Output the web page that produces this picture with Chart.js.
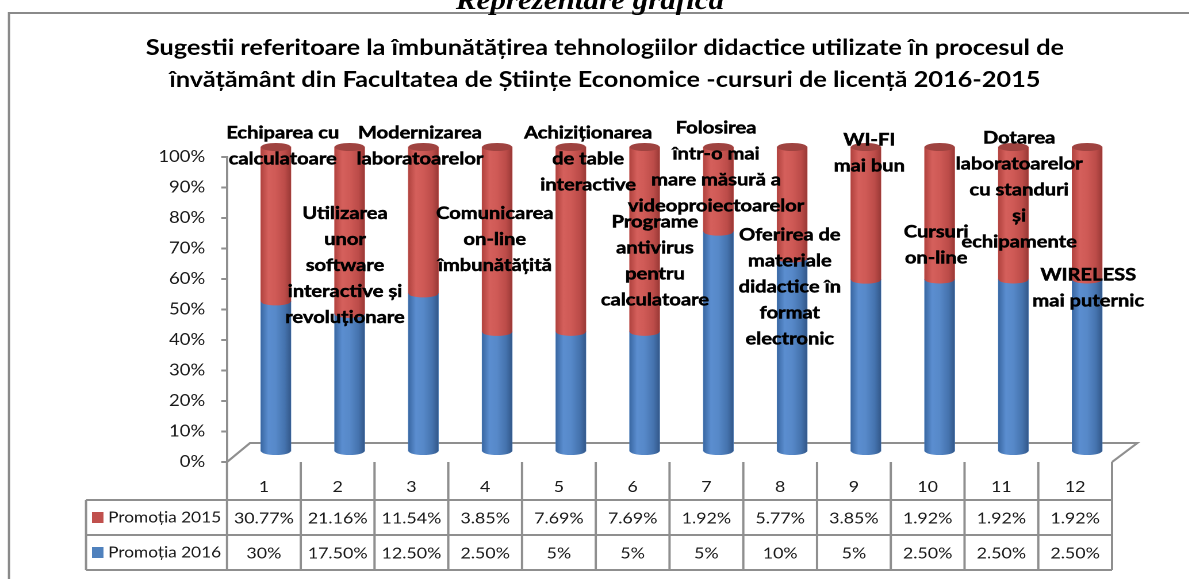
<!DOCTYPE html>
<html lang="ro">
<head>
<meta charset="utf-8">
<title>Sugestii tehnologii didactice</title>
<script src="https://cdn.jsdelivr.net/npm/chart.js@4.4.1/dist/chart.umd.min.js"></script>
<style>
  html, body { margin: 0; padding: 0; background: #fff; overflow: hidden; }
  #wrap { width: 1189px; height: 579px; overflow: hidden; }
  /* the original picture is stretched sideways, so the canvas is too */
  #chart { transform-origin: 0 0; transform: scaleX(1.15); }
</style>
</head>
<body>
<div id="wrap"><canvas id="chart" width="1034" height="579"></canvas></div>
<script>
/* =============== Data =============== */
const categories = ["1", "2", "3", "4", "5", "6", "7", "8", "9", "10", "11", "12"];
const seriesNames = ["Promoția 2015", "Promoția 2016"];
const promo2015 = [30.77, 21.16, 11.54, 3.85, 7.69, 7.69, 1.92, 5.77, 3.85, 1.92, 1.92, 1.92];
const promo2016 = [30, 17.5, 12.5, 2.5, 5, 5, 5, 10, 5, 2.5, 2.5, 2.5];
const suggestions = [
  ["Echiparea cu", "calculatoare"],
  ["Utilizarea", "unor", "software", "interactive și", "revoluționare"],
  ["Modernizarea", "laboratoarelor"],
  ["Comunicarea", "on-line", "îmbunătățită"],
  ["Achiziționarea", "de table", "interactive"],
  ["Programe", "antivirus", "pentru", "calculatoare"],
  ["Folosirea", "într-o mai", "mare măsură a", "videoproiectoarelor"],
  ["Oferirea de", "materiale", "didactice în", "format", "electronic"],
  ["WI-FI", "mai bun"],
  ["Cursuri", "on-line"],
  ["Dotarea", "laboratoarelor", "cu standuri", "și", "echipamente"],
  ["WIRELESS", "mai puternic"]
];
const titleLines = [
  "Sugestii referitoare la îmbunătățirea tehnologiilor didactice utilizate în procesul de",
  "învățământ din Facultatea de Științe Economice -cursuri de licență 2016-2015"
];
const headerText = "Reprezentare grafică";

/* =============== Layout (not data) =============== */
// first line of each category label, in axis % units, and sideways nudge
const labelTop = [107.9, 81.6, 107.9, 81.6, 107.9, 78.7, 109.5, 74.4, 105.6, 75.4, 106.2, 61.3];
const labelShift = [6, -4, -3, -2, 15, 9, -2, -2, 3, -3, 5, 1];
const LINE = 26;
const DEPTH = { dx: 10.4, dy: -10 };   // bars sit inside the 3d floor
const FLOOR = { dx: 20, dy: 19 };
const GRID = "#8f8f8f";

const COLORS = {
  red: "#c0504d",
  blue: "#4f81bd",
  redTop: "#9f4340"
};
const SHADES = [
  [[0, "#3a68a3"], [0.25, "#5b8ed0"], [0.5, "#5789c9"], [0.8, "#4573ae"], [1, "#33588a"]],
  [[0, "#b1433f"], [0.25, "#d5605c"], [0.5, "#cf5a56"], [0.8, "#bc4c49"], [1, "#9a3936"]]
];

/* =============== Helpers =============== */
const pct = (v) => (Number.isInteger(v) ? String(v) : v.toFixed(2)) + "%";
const share2016 = promo2016.map((v, i) => v / (v + promo2015[i]) * 100);
const share2015 = promo2015.map((v, i) => v / (v + promo2016[i]) * 100);

/* =============== Plugins =============== */
const frame = {
  id: "frame",
  beforeDraw(chart) {
    const { ctx } = chart;
    ctx.save();
    ctx.strokeStyle = "#8a8a8a";
    ctx.lineWidth = 2;
    ctx.strokeRect(7.8, 13, 1200, 700);
    ctx.fillStyle = "#000";
    ctx.font = "italic bold 27px 'Liberation Serif'";
    ctx.textAlign = "center";
    ctx.textBaseline = "alphabetic";
    ctx.fillText(headerText, 513, 9);
    ctx.restore();
  }
};

const cylinders = {
  id: "cylinders",
  beforeDatasetsDraw(chart) {
    const { ctx, chartArea: a } = chart;
    ctx.save();
    ctx.strokeStyle = GRID;
    ctx.lineWidth = 2;
    ctx.beginPath();
    ctx.moveTo(a.left, a.bottom);
    ctx.lineTo(a.left + FLOOR.dx, a.bottom - FLOOR.dy);
    ctx.lineTo(a.right + FLOOR.dx + 2, a.bottom - FLOOR.dy);
    ctx.lineTo(a.right, a.bottom);
    ctx.stroke();
    ctx.restore();

    ctx.save();
    ctx.translate(DEPTH.dx, DEPTH.dy);
  },
  afterDatasetsDraw(chart) {
    const { ctx } = chart;
    const last = chart.data.datasets.length - 1;
    chart.data.datasets.forEach((ds, di) => {
      chart.getDatasetMeta(di).data.forEach((bar) => {
        const { x, y, base, width } = bar.getProps(["x", "y", "base", "width"], true);
        const l = x - width / 2, r = x + width / 2, rx = width / 2, ry = 4;
        const g = ctx.createLinearGradient(l, 0, r, 0);
        SHADES[di].forEach(([s, c]) => g.addColorStop(s, c));
        ctx.fillStyle = g;
        ctx.beginPath();
        ctx.moveTo(l, y);
        ctx.lineTo(l, base);
        ctx.ellipse(x, base, rx, ry, 0, Math.PI, 0, true);
        ctx.lineTo(r, y);
        ctx.closePath();
        ctx.fill();
        if (di === last) {
          ctx.fillStyle = COLORS.redTop;
          ctx.beginPath();
          ctx.ellipse(x, y, rx, ry, 0, 0, Math.PI * 2);
          ctx.fill();
        }
      });
    });
    ctx.restore();
  }
};

const labels = {
  id: "labels",
  afterDraw(chart) {
    const { ctx } = chart;
    const xs = chart.scales.x, ys = chart.scales.y;
    ctx.save();
    ctx.font = "bold 17.5px Lato";
    ctx.fillStyle = "#000";
    ctx.strokeStyle = "#000";
    ctx.lineWidth = 0.5;
    ctx.textAlign = "center";
    ctx.textBaseline = "middle";
    suggestions.forEach((lines, i) => {
      const x = xs.getPixelForValue(i) + DEPTH.dx + labelShift[i];
      const y0 = ys.getPixelForValue(labelTop[i]);
      lines.forEach((t, k) => {
        ctx.fillText(t, x, y0 + k * LINE);
        ctx.strokeText(t, x, y0 + k * LINE);
      });
    });
    ctx.restore();
  }
};

const dataTable = {
  id: "dataTable",
  afterDraw(chart) {
    const { ctx, chartArea: a } = chart;
    const xs = chart.scales.x;
    const colW = (a.right - a.left) / categories.length;
    const legendLeft = 74.8;
    const rows = [a.bottom, 500, 535, 570];
    ctx.save();
    ctx.strokeStyle = GRID;
    ctx.lineWidth = 2;
    ctx.beginPath();
    for (let k = 0; k <= categories.length; k++) {
      const x = a.left + k * colW;
      ctx.moveTo(x, a.bottom);
      ctx.lineTo(x, rows[3]);
    }
    for (let r = 1; r < rows.length; r++) {
      ctx.moveTo(legendLeft, rows[r]);
      ctx.lineTo(a.right, rows[r]);
    }
    ctx.moveTo(legendLeft, rows[1]);
    ctx.lineTo(legendLeft, rows[3]);
    ctx.stroke();

    ctx.fillStyle = "#1a1a1a";
    ctx.font = "15.5px Lato";
    ctx.textAlign = "center";
    ctx.textBaseline = "middle";
    const rowVals = [promo2015, promo2016];
    categories.forEach((c, i) => {
      const x = xs.getPixelForValue(i);
      ctx.fillText(c, x, 487);
      rowVals.forEach((vals, r) => ctx.fillText(pct(vals[i]), x, (rows[r + 1] + rows[r + 2]) / 2 + 1));
    });

    // legend keys
    const keyColors = [COLORS.red, COLORS.blue];
    ctx.font = "15px Lato";
    ctx.textAlign = "left";
    seriesNames.forEach((name, r) => {
      const cy = (rows[r + 1] + rows[r + 2]) / 2;
      ctx.fillStyle = keyColors[r];
      ctx.fillRect(80, cy - 5.5, 10, 11);
      ctx.fillStyle = "#1a1a1a";
      ctx.fillText(name, 94, cy);
    });
    ctx.restore();
  }
};

/* =============== Chart =============== */
Chart.defaults.font.family = "Lato";

new Chart(document.getElementById("chart"), {
  type: "bar",
  data: {
    labels: categories,
    datasets: [
      { label: seriesNames[1], data: share2016, backgroundColor: COLORS.blue, clip: false },
      { label: seriesNames[0], data: share2015, backgroundColor: COLORS.red, clip: false }
    ]
  },
  options: {
    responsive: false,
    devicePixelRatio: 2,
    animation: false,
    layout: { padding: { left: 85, right: 67, top: 0, bottom: 117 } },
    datasets: { bar: { barThickness: 26 } },
    plugins: {
      legend: { display: false },
      tooltip: { enabled: false },
      title: {
        display: true,
        text: titleLines,
        color: "#000",
        font: { size: 22, weight: "bold", lineHeight: 32 / 22 },
        padding: { top: 32, bottom: 61 }
      }
    },
    scales: {
      x: { stacked: true, display: false },
      y: {
        stacked: true,
        min: 0,
        max: 100,
        afterFit(scale) { scale.width = 112.4; },
        ticks: {
          stepSize: 10,
          padding: 14,
          color: "#1a1a1a",
          font: { size: 16 },
          callback: (v) => v + "%"
        },
        grid: { drawOnChartArea: false, tickLength: 5, color: GRID, lineWidth: 2 },
        border: { color: GRID, width: 2 }
      }
    }
  },
  plugins: [frame, cylinders, labels, dataTable]
});
</script>
</body>
</html>
